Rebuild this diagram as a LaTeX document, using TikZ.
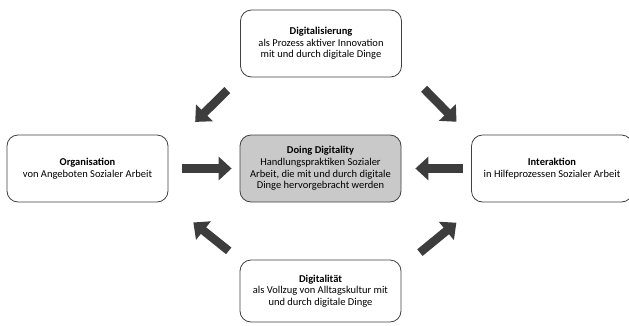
\documentclass[tikz,border=0pt]{standalone}
\usepackage{fontspec}
\setmainfont{Carlito}
\usetikzlibrary{arrows.meta}

\definecolor{boxline}{rgb}{0.25, 0.25, 0.25}
\definecolor{boxgray}{rgb}{0.79, 0.79, 0.79}
\definecolor{arrowgray}{rgb}{0.24, 0.24, 0.24}

\tikzset{
	fieldbox/.style={draw=boxline, line width=0.8pt, rounded corners=11pt, minimum width=161pt, minimum height=67pt, align=center, inner sep=2pt, font=\fontsize{10.5}{11.7}\selectfont},
	blockarrow/.style={draw=arrowgray, line width=8.5pt, -{Triangle[width=23pt,length=13pt]}}
}

\begin{document}
\begin{tikzpicture}[x=1pt,y=1pt,yscale=-1,xscale=1]
		% Set the frame of the picture
		\useasboundingbox (0,0) rectangle (629,325);

		% The centre box "Doing Digitality" in gray
		\node[fieldbox, fill=boxgray] (doing) at (320.5,168.5) {\textbf{Doing Digitality}\\Handlungspraktiken Sozialer\\Arbeit, die mit und durch digitale\\Dinge hervorgebracht werden};

		% The boxes round the centre
		\node[fieldbox] (digit) at (321,43.5) {\textbf{Digitalisierung}\\als Prozess aktiver Innovation\\mit und durch digitale Dinge};
		\node[fieldbox] (orga) at (87.5,168.5) {\textbf{Organisation}\\von Angeboten Sozialer Arbeit};
		\node[fieldbox] (inter) at (552,168.5) {\textbf{Interaktion}\\in Hilfeprozessen Sozialer Arbeit};
		\node[fieldbox, minimum height=62pt] (digtat) at (320.5,291) {\textbf{Digitalität}\\als Vollzug von Alltagskultur mit\\und durch digitale Dinge};

		% The horizontal arrows towards the centre box
		\draw[blockarrow, shorten <=14pt, shorten >=8pt] (orga.east) -- (doing.west);
		\draw[blockarrow, shorten <=8pt, shorten >=14pt] (inter.west) -- (doing.east);

		% The oblique arrows from "Digitalisierung"
		\draw[blockarrow, shorten <=18pt, shorten >=18pt] (digit.south west) -- ([xshift=14pt]orga.north east);
		\draw[blockarrow, shorten <=16pt, shorten >=18pt] ([xshift=11pt]digit.south east) -- ([xshift=-2pt]inter.north west);

		% The oblique arrows from "Digitalität"
		\draw[blockarrow, shorten <=14pt, shorten >=32pt] (digtat.north west) -- (orga.south east);
		\draw[blockarrow, shorten <=11pt, shorten >=32pt] ([xshift=10pt]digtat.north east) -- ([xshift=10pt]inter.south west);
	\end{tikzpicture}
\end{document}
